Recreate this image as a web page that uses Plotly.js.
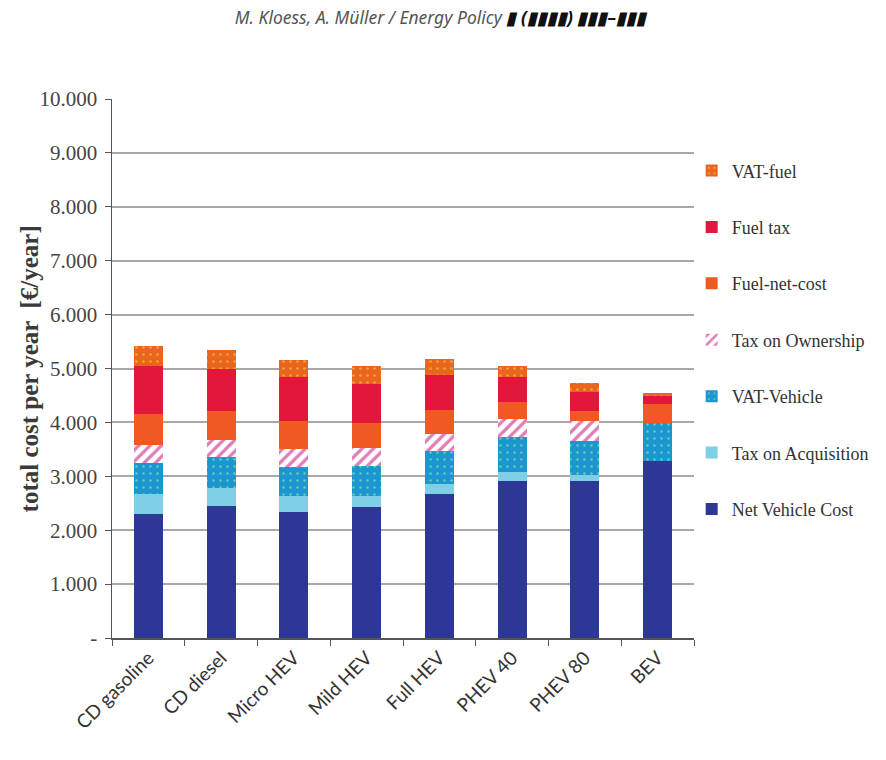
<!DOCTYPE html>
<html>
<head>
<meta charset="utf-8">
<script src="https://cdn.plot.ly/plotly-3.0.1.min.js"></script>
<style>
  html, body { margin: 0; padding: 0; background: #ffffff; }
  #chart { width: 886px; height: 760px; }
</style>
</head>
<body>
<div id="chart"></div>
<script>
// Annual total cost of ownership per vehicle concept, split into cost components (€/year)
const categories = ["CD gasoline", "CD diesel", "Micro HEV", "Mild HEV", "Full HEV", "PHEV 40", "PHEV 80", "BEV"];

const netVehicleCost = [2300, 2445, 2335, 2425, 2675, 2910, 2920, 3290];
const taxOnAcquisition = [375, 335, 295, 215, 175, 165, 110, 0];
const vatVehicle = [570, 575, 540, 555, 620, 650, 630, 695];
const taxOnOwnership = [330, 325, 340, 330, 320, 340, 360, 0];
const fuelNetCost = [575, 530, 525, 455, 435, 310, 200, 360];
const fuelTax = [890, 785, 805, 730, 650, 465, 340, 140];
const vatFuel = [370, 340, 310, 340, 310, 215, 165, 60];

const yTickValues = [0, 1000, 2000, 3000, 4000, 5000, 6000, 7000, 8000, 9000, 10000];
const yTickLabels = ["-", "1.000", "2.000", "3.000", "4.000", "5.000", "6.000", "7.000", "8.000", "9.000", "10.000"];

// legend lists the components from the top of the stack downwards
function barTrace(name, values, color, rank, pattern) {
  const marker = { color: color, line: { width: 0 } };
  if (pattern) marker.pattern = pattern;
  return {
    type: "bar",
    name: name,
    legendgroup: name,
    legendrank: rank,
    x: categories,
    y: values,
    marker: marker,
    hoverinfo: "skip"
  };
}

const traces = [
  barTrace("Net Vehicle Cost", netVehicleCost, "#2d3896", 7),
  barTrace("Tax on Acquisition", taxOnAcquisition, "#7fd0e6", 6),
  barTrace("VAT-Vehicle", vatVehicle, "#1b96d0", 5,
    { shape: ".", fgcolor: "#6cc9b4", bgcolor: "#1b96d0", size: 7, solidity: 0.1, fillmode: "replace" }),
  barTrace("Tax on Ownership", taxOnOwnership, "#ffffff", 4,
    { shape: "/", fgcolor: "#e07cb6", bgcolor: "#ffffff", size: 8, solidity: 0.4, fillmode: "replace" }),
  barTrace("Fuel-net-cost", fuelNetCost, "#f05a22", 3),
  barTrace("Fuel tax", fuelTax, "#e2173b", 2),
  barTrace("VAT-fuel", vatFuel, "#ea661f", 1,
    { shape: ".", fgcolor: "#eaa43a", bgcolor: "#ea661f", size: 7, solidity: 0.12, fillmode: "replace" })
];

const layout = {
  width: 886,
  height: 760,
  paper_bgcolor: "#ffffff",
  plot_bgcolor: "#ffffff",
  margin: { l: 112, r: 192, t: 99, b: 122 },
  barmode: "stack",
  bargap: 0.6,
  showlegend: true,
  title: {
    text: "M. Kloess, A. Müller / Energy Policy <b><span style=\"color:#111\">▮ (▮▮▮▮) ▮▮▮–▮▮▮</span></b>",
    font: { family: "Noto Sans", size: 17.5, color: "#555555", style: "italic" },
    x: 0.497,
    xanchor: "center",
    y: 0.976,
    yanchor: "middle"
  },
  xaxis: {
    type: "category",
    tickangle: -45,
    tickfont: { family: "Lato", size: 19, color: "#333333" },
    showline: true,
    linecolor: "#555555",
    linewidth: 1.5,
    ticks: "outside",
    tickson: "boundaries",
    ticklen: 6,
    tickcolor: "#555555",
    showgrid: false,
    fixedrange: true
  },
  yaxis: {
    range: [0, 10000],
    tickvals: yTickValues,
    ticktext: yTickLabels,
    tickfont: { family: "Liberation Serif", size: 21, color: "#444444" },
    showline: true,
    linecolor: "#555555",
    linewidth: 1.5,
    ticks: "outside",
    ticklen: 6,
    tickcolor: "#555555",
    ticklabelstandoff: 3,
    showgrid: true,
    gridcolor: "#a8a8a8",
    gridwidth: 2,
    zeroline: false,
    fixedrange: true
  },
  annotations: [{
    // y-axis title, placed by hand so it can sit close to the tick labels
    text: "<b>total cost per year  [€/year]</b>",
    font: { family: "Liberation Serif", size: 25, color: "#3a3a3a" },
    textangle: -90,
    xref: "paper",
    yref: "paper",
    x: -0.141,
    y: 0.5,
    xanchor: "center",
    yanchor: "middle",
    showarrow: false
  }],
  legend: {
    x: 0.996,
    xanchor: "left",
    y: 0.901,
    yanchor: "top",
    traceorder: "grouped",
    tracegroupgap: 30,
    font: { family: "Liberation Serif", size: 18, color: "#333333" },
    bgcolor: "rgba(0,0,0,0)",
    itemwidth: 30
  }
};

Plotly.newPlot("chart", traces, layout, { displayModeBar: false, staticPlot: true });
</script>
</body>
</html>
